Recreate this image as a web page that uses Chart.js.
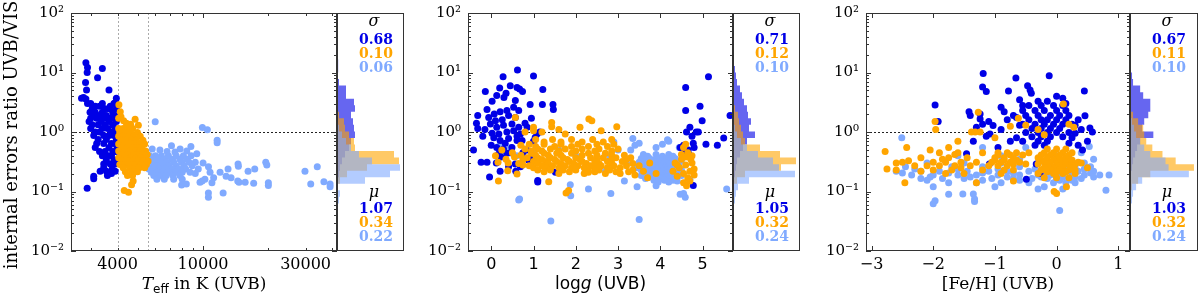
<!DOCTYPE html>
<html>
<head>
<meta charset="utf-8">
<script src="https://cdn.jsdelivr.net/npm/chart.js@4/dist/chart.umd.min.js"></script>
<style>
  html, body { margin: 0; padding: 0; background: #fff; }
  #wrap { position: relative; width: 1200px; height: 296px; overflow: hidden; }
  canvas { position: absolute; top: 0; }
</style>
</head>
<body>
<div id="wrap">
  <canvas id="s1" width="337" height="296" style="left:0px"></canvas>
  <canvas id="h1" width="67" height="296" style="left:337px"></canvas>
  <canvas id="s2" width="329" height="296" style="left:404px"></canvas>
  <canvas id="h2" width="67" height="296" style="left:733px"></canvas>
  <canvas id="s3" width="330" height="296" style="left:800px"></canvas>
  <canvas id="h3" width="68" height="296" style="left:1130px"></canvas>
</div>
<script>
/* ---------- axes ---------- */
const yDecades = [0.01, 0.1, 1, 10, 100];
const teffRange = [2430, 42000];
const teffTicks = [3000, 4000, 5000, 6000, 7000, 8000, 9000, 10000, 20000, 30000, 40000];
const teffLabels = [4000, 10000, 30000];
const teffCuts = [4000, 5550];
const loggRange = [-0.55, 5.72];
const loggTicks = [0, 1, 2, 3, 4, 5];
const fehRange = [-3.09, 1.19];
const fehTicks = [-3, -2, -1, 0, 1];

/* ---------- summary numbers (sigma, mu) ---------- */
const sigma1 = ['0.68', '0.10', '0.06'], mu1 = ['1.07', '0.34', '0.22'];
const sigma2 = ['0.71', '0.12', '0.10'], mu2 = ['1.05', '0.32', '0.24'];
const sigma3 = ['0.67', '0.11', '0.10'], mu3 = ['1.03', '0.32', '0.24'];

/* ---------- histograms: bin centres (log10 ratio), bin width and bar lengths ---------- */
const histExp = [-1.365, -1.255, -1.145, -1.035, -0.925, -0.815, -0.705, -0.595, -0.485, -0.375, -0.265, -0.155,
                 -0.045, 0.065, 0.175, 0.285, 0.395, 0.505, 0.615, 0.725, 0.835, 0.945, 1.055, 1.165];
const histBin = 0.11;
const histMax = 67;
const h1Blue   = [0,0,0,0,1,1,2,3,5,8,12,14,18,17,16,14,18,17,9,9,2,0,1.5,1];
const h1Orange = [0,0,0,0,0,3,10,30,62,57,18,17,12,8,7,2,0,0,0,0,0,0,0,0];
const h1Light  = [0,0,2,3,1,28,53,63,35,22,14,9,5,2,0,0,0,0,0,0,0,0,0,0];
const h2Blue   = [0,0,0,0,0,1,2,3,4,7,10,14,22,16,18,15,14,11,9,7,4,3,2,1];
const h2Orange = [0,0,0,0,1,4,12,48,63,47,27,12,10,8,6,5,2,0,0,0,0,0,0,0];
const h2Light  = [1,1,2,3,5,16,62,46,40,25,14,8,4,2,0,0,0,0,0,0,0,0,0,0];
const h3Blue   = [0,0,0,0,0,0,1,2,3,5,7,10,23,12,14,18,20,20,13,10,3,2,0,0];
const h3Orange = [0,0,0,0,2,8,20,63,45,32,22,16,14,13,8,3,0,0,0,0,0,0,0,0];
const h3Light  = [0,1,2,3,6,12,58,38,35,20,14,10,6,4,2,1,0,0,0,0,0,0,0,0];

/* ---------- panel 1: Teff vs ratio  (rows = [ratio, [Teff...]]) ---------- */
const p1BlueRows = [
  [3.0, [3000, 3400, 3850]],
  [2.7, [3150, 3300, 3700]],
  [2.45, [3050, 3500, 3650, 3950]],
  [2.15, [2980, 3150, 3400, 3800]],
  [1.9, [3100, 3300, 3550, 3900]],
  [1.7, [3000, 3200, 3450, 3700, 3850]],
  [1.5, [2950, 3350, 3650, 3950]],
  [1.32, [3050, 3250, 3500, 3800]],
  [1.15, [3000, 3400, 3600, 3900]],
  [1.0, [3150, 3300, 3750, 3980]],
  [0.87, [3100, 3450, 3650, 3850]],
  [0.75, [3250, 3550, 3950]],
  [0.64, [3200, 3450, 3750, 3880]],
  [0.55, [3150, 3650, 3980]],
  [0.47, [3300, 3500, 3800, 3920]],
  [0.4, [3400, 3600, 3750]],
  [0.34, [3550, 3850, 3980]],
  [0.29, [3450, 3700, 3900]]
];
const p1BlueExtra = [[2850,14.6],[2900,12.1],[2890,10],[3400,11.7],[3230,8.2],[2840,6.8],[2870,5.1],[3650,5.1],
  [2720,3.7],[2780,3.8],[2850,3.6],[3950,3.7],[2900,3.0],[3900,3.1],[2890,0.113],[3100,0.163],[3100,0.18],
  [3320,0.218],[3550,0.218],[3590,0.185],[3750,0.2],[3780,0.24],[3450,0.25],[3900,0.22]];
const p1OrangeRows = [
  [1.15, [4050, 4250, 4450, 4700]],
  [0.98, [4100, 4350, 4600, 4950]],
  [0.85, [4050, 4250, 4500, 4750, 5100]],
  [0.73, [4150, 4400, 4650, 4900, 5250]],
  [0.63, [4050, 4300, 4550, 4800, 5050, 5350]],
  [0.55, [4200, 4450, 4700, 4950, 5200]],
  [0.48, [4050, 4300, 4600, 4850, 5100, 5400]],
  [0.42, [4200, 4450, 4750, 5000, 5250, 5500]],
  [0.37, [4050, 4350, 4600, 4850, 5150, 5400]],
  [0.325, [4200, 4500, 4750, 5000, 5300, 5550]],
  [0.285, [4100, 4350, 4650, 4900, 5150, 5450]],
  [0.25, [4250, 4550, 4800, 5050, 5350]],
  [0.215, [4350, 4650, 4950]],
  [0.185, [4450, 4700]]
];
const p1OrangeExtra = [[4060,2.87],[4270,1.55],[4830,1.63],[4300,0.104],[4500,0.097],[4730,0.15],[4650,0.13],
  [4120,2.2],[4150,1.8],[4600,1.35],[5000,1.3],[4400,1.4],[4050,1.7]];
const p1LightRows = [
  [0.4, [5650, 6000, 6400, 6900, 7500, 8100, 8800]],
  [0.35, [5800, 6200, 6650, 7200, 7800, 8400]],
  [0.31, [5600, 5950, 6350, 6800, 7300, 7950, 8600, 9200]],
  [0.27, [5750, 6100, 6500, 6950, 7500, 8150, 8900]],
  [0.24, [5600, 5900, 6250, 6700, 7200, 7700, 8300, 9500]],
  [0.21, [5750, 6100, 6450, 6900, 7450, 8000, 8700]],
  [0.185, [5900, 6300, 6750, 7250, 7800]],
  [0.16, [6100, 6600, 7300, 8000]]
];
const p1LightExtra = [[5990,1.49],[9930,1.19],[10470,1.09],[11630,0.73],[11630,0.66],[7130,0.59],[7820,0.52],
  [8780,0.57],[9350,0.43],[6300,0.5],[6800,0.47],[7400,0.46],[8400,0.48],[5800,0.52],[10000,0.3],[10600,0.26],
  [10780,0.21],[12000,0.21],[11200,0.17],[13070,0.24],[14550,0.29],[14600,0.265],[16200,0.218],[17400,0.24],
  [19580,0.31],[19800,0.28],[13500,0.17],[14700,0.143],[15700,0.143],[17200,0.137],[20130,0.126],[20130,0.14],
  [14500,0.15],[10590,0.094],[10590,0.08],[12400,0.094],[29800,0.218],[34000,0.26],[31700,0.134],[36500,0.146],
  [39000,0.134],[39000,0.12],[9680,0.143],[9900,0.15],[7950,0.128],[8360,0.134],[10200,0.16],[9200,0.2],
  [11000,0.14],[12800,0.18]];

/* ---------- panel 2: log g vs ratio ---------- */
const p2BlueExtra = [[0.62,11],[1.0,8.7],[0.28,8.5],[-0.14,4.8],[0.2,5.5],[0.45,6],[0.61,5.6],[0.67,5.3],[1.22,5.2],
  [0.74,4.8],[0.13,4.1],[0.35,4.5],[0.3,3.8],[0.57,3.4],[0.02,3.3],[-0.1,2.4],[-0.32,1.9],[-0.35,1.4],[-0.32,1.15],
  [-0.42,0.5],[-0.24,0.31],[-0.04,0.175],[-0.1,0.31],[0.92,2.9],[1.21,2.9],[1.46,2.9],[1.47,2.4],
  [0.07,2.0],[0.21,2.2],[0.37,2.3],[0.53,2.6],[0.65,2.3],[-0.06,1.75],[0.1,1.55],[0.26,1.6],[0.41,1.9],[0.57,1.75],
  [-0.02,1.36],[0.13,1.2],[0.29,1.3],[0.49,1.36],[0.65,1.2],[0.02,0.95],[0.18,0.93],[0.37,1.0],[0.53,1.05],
  [0.69,0.93],[0.06,0.8],[0.21,0.72],[0.41,0.78],[0.61,0.72],[0.13,0.55],[0.29,0.52],[0.49,0.55],[0.61,0.85],
  [0.73,0.72],[0.18,0.43],[0.23,0.38],[0.37,0.44],[0.57,0.29],[0.58,0.22],[0.69,0.26],[0.84,0.5],[1.08,0.93],
  [1.04,0.81],[1.0,0.7],[1.1,0.153],[1.1,0.145],[1.52,0.21],[1.32,0.255],[1.0,0.376],[0.88,0.34],[0.21,0.22],
  [0.41,0.26],[0.0,0.6],[0.8,1.4],[0.33,0.65],[0.12,0.3],[0.45,0.45],[0.75,0.45],[-0.2,0.85],[-0.15,1.1],
  [0.95,1.7],[0.85,1.2],[1.15,1.0],
  [4.6,5.6],[4.6,2.3],[4.94,2.7],[4.99,1.55],[5.14,8.5],[5.65,1.9],[5.5,0.79],[5.35,0.6],[5.08,0.62],[4.78,0.65],
  [4.7,1.2],[4.85,1.0],[4.9,1.0],[4.62,1.0],[4.8,0.55],[4.47,0.55],[4.66,0.5],[4.63,0.46],[4.78,0.126],[4.55,0.6],
  [4.58,0.55],[4.75,0.85],[4.68,0.42],[4.6,0.48]];
const p2OrangeRows = [
  [0.75, [1.05, 1.45, 1.9, 2.4, 2.85]],
  [0.68, [1.25, 1.65, 2.15, 2.65]],
  [0.62, [0.9, 1.25, 1.65, 2.05, 2.5, 2.9]],
  [0.57, [1.05, 1.5, 1.9, 2.3, 2.75]],
  [0.52, [0.8, 1.1, 1.4, 1.75, 2.15, 2.55, 3.0]],
  [0.48, [0.95, 1.2, 1.6, 2.0, 2.45, 2.85]],
  [0.44, [0.95, 1.25, 1.55, 1.9, 2.3, 2.7]],
  [0.405, [0.7, 1.05, 1.35, 1.65, 2.15, 2.5, 2.85, 3.15]],
  [0.37, [0.85, 1.1, 1.4, 1.7, 2.0, 2.35, 2.65, 2.95, 3.3]],
  [0.345, [0.75, 1.2, 1.5, 1.8, 2.1, 2.5, 2.85, 3.2]],
  [0.32, [1.0, 1.3, 1.55, 1.85, 2.15, 2.45, 2.75, 3.1]],
  [0.295, [0.65, 1.1, 1.35, 1.65, 1.95, 2.25, 2.55, 2.85, 3.35]],
  [0.27, [0.9, 1.2, 1.45, 1.75, 2.05, 2.35, 2.6, 2.9, 3.2, 3.5]],
  [0.25, [1.0, 1.3, 1.6, 1.9, 2.2, 2.45, 2.75, 3.05]],
  [0.23, [1.1, 1.4, 1.7, 2.0, 2.3, 2.55, 2.8, 3.35]],
  [0.215, [1.25, 1.85, 2.45, 2.95, 3.25]],
  [0.2, [1.6, 2.2, 2.7, 3.05]]
];
const p2OrangeExtra = [[0.57,1.76],[1.0,1.2],[1.0,1.05],[1.43,1.45],[1.43,1.23],[2.31,1.65],[2.38,1.55],[2.97,1.23],
  [1.75,0.93],[0.16,0.31],[0.17,0.15],[0.39,0.224],[0.61,0.197],[1.36,0.146],[1.83,0.104],[1.77,0.094],[2.3,0.21],
  [1.2,1.0],[1.6,1.1],[2.1,1.2],[2.6,1.05],[0.8,1.0],[0.35,0.35],[0.5,0.45],[0.1,0.4],[0.7,0.6],[0.25,0.5],
  [0.55,0.38],[0.4,0.3],[0.75,0.28],
  [3.6,0.22],[3.75,0.3],[3.9,0.2],[3.4,0.19],[3.7,0.17],
  [4.35,0.3],[4.45,0.25],[4.55,0.2],[4.65,0.17],[4.75,0.3],[4.5,0.35],[4.6,0.28],[4.7,0.22],[4.4,0.18],[4.55,0.14],
  [4.62,0.125],[4.7,0.15],[4.8,0.24],[4.75,0.4],[4.65,0.45],[4.5,0.42],[4.3,0.22],[4.8,0.19],[4.6,0.62],[4.55,0.55],
  [4.72,0.35],[4.4,0.28],[4.6,0.38]];
const p2LightRows = [
  [0.42, [3.6, 3.9, 4.2]],
  [0.39, [3.7, 4.05, 4.3]],
  [0.36, [3.55, 3.75, 3.95, 4.15, 4.35]],
  [0.335, [3.65, 3.85, 4.05, 4.25, 4.5]],
  [0.31, [3.5, 3.7, 3.9, 4.1, 4.3, 4.45]],
  [0.29, [3.6, 3.8, 4.0, 4.2, 4.35]],
  [0.27, [3.6, 3.8, 4.0, 4.2, 4.4]],
  [0.25, [3.45, 3.7, 3.9, 4.1, 4.3, 4.45]],
  [0.23, [3.55, 3.75, 3.95, 4.15, 4.35, 4.5]],
  [0.215, [3.6, 3.8, 4.0, 4.2, 4.4]],
  [0.2, [3.65, 3.85, 4.05, 4.25, 4.45]],
  [0.185, [3.55, 3.9, 4.1, 4.25, 4.5]],
  [0.175, [3.75, 3.95, 4.15, 4.35]],
  [0.165, [3.65, 4.0, 4.2]],
  [0.155, [3.85, 4.1, 4.3]],
  [0.145, [3.95, 4.2]]
];
const p2LightExtra = [[2.9,0.68],[3.35,0.78],[3.4,0.6],[3.5,0.65],[3.3,0.5],[4.17,0.74],[4.2,0.7],[4.05,0.62],
  [3.9,0.55],[4.45,0.55],[2.83,0.093],[2.3,0.11],[1.87,0.13],[1.88,0.085],[0.67,0.075],[0.65,0.072],[1.41,0.032],
  [3.5,0.034],[5.57,0.11],[4.55,0.093],[4.59,0.08],[4.47,0.09],[3.45,0.12],[3.9,0.125],[3.15,0.15],[2.7,0.22],
  [2.5,0.3],[2.0,0.4],[0.3,0.45],[0.2,0.6],[0.45,0.55],[1.0,0.45],[0.6,0.4],[1.6,0.5],[0.95,0.3],[3.0,0.5],
  [2.8,0.4],[3.2,0.3],[4.7,0.16],[4.6,0.14],[4.4,0.15]];

/* ---------- panel 3: [Fe/H] vs ratio ---------- */
const p3BlueRows = [
  [3.3, [-0.3, -0.15]],
  [2.8, [-0.45, -0.25, -0.05, 0.1]],
  [2.3, [-0.55, -0.35, -0.2, 0.0, 0.15]],
  [1.9, [-0.5, -0.3, -0.1, 0.05, 0.2]],
  [1.6, [-0.45, -0.25, -0.15, 0.0, 0.15]],
  [1.35, [-0.55, -0.35, -0.2, -0.05, 0.1, 0.25]],
  [1.15, [-0.4, -0.25, -0.1, 0.05]],
  [0.98, [-0.5, -0.3, -0.15, 0.0, 0.2]],
  [0.83, [-0.4, -0.25, -0.1, 0.1]],
  [0.7, [-0.55, -0.3, -0.15]],
  [0.6, [-0.35, -0.2]]
];
const p3BlueExtra = [[-1.19,9.6],[-0.12,8.8],[-0.66,8.1],[-1.2,5.7],[-1.14,4.8],[-1.97,2.85],[-1.92,1.5],[-1.42,2.2],
  [-1.4,1.9],[-1.24,2.0],[-1.24,1.65],[-0.78,4.9],[-0.47,6],[-0.43,5.1],[-0.41,4.5],[0.0,4.0],[0.45,4.9],[0.46,1.88],
  [0.54,1.17],[0.42,0.5],[-0.65,1.76],[-0.7,1.9],[-1.03,1.28],[-1.08,0.93],[-1.14,0.85],[-1.35,0.7],[-1.46,0.43],
  [-1.09,0.29],[-0.49,0.16],[-0.33,0.29],[-0.27,0.2],[0.58,1.0],[0.1,3.7],[0.15,3.0],[-0.9,2.6],[-0.85,2.2],
  [-0.95,0.55],[0.3,1.3],[0.25,0.8],[-1.3,1.2],[-1.1,1.5],[-0.9,1.1],[-0.8,1.6],[-0.6,1.3],[-0.65,0.8],
  [-0.75,0.7],[-1.2,1.35],[-0.55,2.8],[-0.6,3.5],[0.35,1.6],[0.4,1.1],[0.3,0.95],[0.5,0.7],[0.2,0.65],[0.35,0.6]];
const p3OrangeRows = [
  [0.52, [-0.15, 0.0, 0.15]],
  [0.45, [-1.9, -1.6, -1.2, -0.95, -0.8, -0.65, -0.45, -0.2, -0.05, 0.1, 0.25]],
  [0.41, [-0.95, -0.75, -0.55, -0.25, -0.1, 0.05, 0.2]],
  [0.37, [-2.2, -1.75, -1.45, -1.0, -0.85, -0.7, -0.3, -0.15, 0.0, 0.15]],
  [0.34, [-1.0, -0.85, -0.65, -0.25, -0.05, 0.1, 0.25]],
  [0.31, [-2.5, -2.0, -1.8, -1.55, -1.3, -1.05, -0.9, -0.75, -0.6, -0.2, -0.1, 0.05, 0.2, 0.35]],
  [0.29, [-0.7, -0.5, -0.3, -0.15, 0.0, 0.15, 0.3]],
  [0.27, [-2.3, -2.1, -1.9, -1.65, -1.4, -1.1, -0.95, -0.8, -0.15, 0.0, 0.1, 0.25]],
  [0.25, [-0.2, -0.05, 0.1, 0.22]],
  [0.23, [-2.6, -2.0, -1.7, -1.2, -0.85, -0.7, -0.25, -0.1, 0.05, 0.2, 0.3]],
  [0.215, [-0.15, 0.0, 0.15]],
  [0.2, [-1.8, -1.5, -0.9, -0.3, -0.05, 0.1]],
  [0.17, [-0.2, 0.0, 0.2]]
];
const p3OrangeExtra = [[-2.78,0.47],[-2.75,0.24],[-2.46,0.14],[-2.43,0.55],[-2.4,0.33],[-1.96,1.1],[-1.97,1.5],
  [-1.27,2.14],[-1.38,1.0],[-1.32,1.0],[-1.24,1.0],[-0.62,1.7],[-0.75,1.25],[0.11,2.95],[0.2,1.35],[0.28,1.2],
  [-0.04,0.1],[0.0,0.093],[0.16,0.12],[-0.3,1.1],[-0.5,1.3],[-0.2,0.9],[-1.0,0.8],[-1.6,0.7],[-1.75,0.55],
  [-2.05,0.5],[-1.3,0.14],[-0.7,0.15],[0.3,0.2],[0.4,0.3],[0.5,0.25],[-2.6,0.3],[-2.2,0.22],[-1.85,0.35],
  [-1.55,0.25],[-1.65,0.42]];
const p3LightRows = [
  [0.3, [-2.1, -1.5, -0.9, -0.3, 0.1, 0.45]],
  [0.26, [-2.45, -1.7, -1.2, -0.6, -0.15, 0.05, 0.3, 0.55]],
  [0.24, [-2.3, -1.6, -0.95, -0.35, -0.1, 0.2, 0.45]],
  [0.22, [-2.6, -2.2, -1.9, -1.45, -1.1, -0.8, -0.45, -0.25, -0.05, 0.15, 0.35, 0.6]],
  [0.205, [-2.5, -1.75, -1.2, -0.7, -0.2, 0.05, 0.3, 0.55]],
  [0.19, [-2.35, -2.0, -1.6, -1.3, -0.95, -0.6, -0.3, -0.1, 0.1, 0.25, 0.45, 0.7, 0.85]],
  [0.175, [-2.05, -1.4, -0.8, -0.25, 0.1, 0.3, 0.6]],
  [0.165, [-2.2, -1.85, -1.5, -1.05, -0.7, -0.4, -0.15, 0.0, 0.2, 0.4]],
  [0.155, [-2.1, -1.2, -0.6, 0.05, 0.25]],
  [0.14, [-1.75, -1.3, -0.9, -0.45, -0.05, 0.15, 0.3]],
  [0.12, [-2.0, -1.0, -0.2]]
];
const p3LightExtra = [[-2.51,0.8],[-1.97,0.07],[-2.0,0.062],[-1.75,0.09],[-1.52,0.091],[-1.35,0.091],[-1.33,0.075],
  [-1.33,0.068],[0.05,0.048],[0.8,0.105],[-0.3,0.11],[0.1,0.11],[0.53,0.57],[0.4,0.45],[-0.5,0.55],[-1.2,0.55],
  [-0.9,0.4],[0.0,0.4],[-0.6,0.35],[-1.6,0.4],[0.6,0.35]];

/* ---------- styling ---------- */
const BLUE = 'rgb(0,0,230)';
const ORANGE = 'rgb(255,165,0)';
const LIGHT = 'rgb(128,170,255)';
const HBLUE = 'rgba(0,0,230,0.6)';
const HORANGE = 'rgba(255,165,0,0.6)';
const HLIGHT = 'rgba(128,170,255,0.6)';
const SERIF = 'DejaVu Serif';
const SANS = 'DejaVu Sans';
const AXIS = '#333';

function pts(rows, extra) {
  const out = [];
  rows.forEach(r => r[1].forEach(x => out.push({ x: x, y: r[0] })));
  extra.forEach(p => out.push({ x: p[0], y: p[1] }));
  return out;
}

function sup(n) {
  const m = { '-': '\u207B', '0': '\u2070', '1': '\u00B9', '2': '\u00B2' };
  return '10' + String(n).split('').map(c => m[c]).join('');
}

function yTickObjs() {
  const t = [];
  yDecades.forEach((d, i) => {
    t.push({ value: d, major: true });
    if (i < yDecades.length - 1) for (let m = 2; m <= 9; m++) t.push({ value: d * m, major: false });
  });
  return t;
}

function drawSegs(ctx, segs, cx, y) {
  let w = 0;
  segs.forEach(s => { ctx.font = s.f; w += ctx.measureText(s.t).width; });
  let x = cx - w / 2;
  segs.forEach(s => {
    ctx.font = s.f;
    ctx.fillText(s.t, x, y + (s.dy || 0));
    x += ctx.measureText(s.t).width;
  });
}

/* frame, inward ticks, dotted guides, titles */
const deco = {
  id: 'deco',
  beforeDatasetsDraw(chart, args, o) {
    const { ctx, chartArea: a, scales } = chart;
    ctx.save();
    ctx.lineWidth = 1;
    ctx.setLineDash([2, 2]);
    (o.vLines || []).forEach(v => {
      const x = Math.round(scales.x.getPixelForValue(v)) + 0.5;
      ctx.strokeStyle = '#aaa';
      ctx.beginPath(); ctx.moveTo(x, a.top); ctx.lineTo(x, a.bottom); ctx.stroke();
    });
    (o.hLines || []).forEach(v => {
      const y = Math.round(scales.y.getPixelForValue(v)) + 0.5;
      ctx.strokeStyle = '#222';
      ctx.beginPath(); ctx.moveTo(a.left, y); ctx.lineTo(a.right, y); ctx.stroke();
    });
    ctx.restore();
  },
  afterDraw(chart, args, o) {
    const { ctx, chartArea: a, scales } = chart;
    ctx.save();
    ctx.strokeStyle = AXIS;
    ctx.lineWidth = 1;
    ctx.strokeRect(Math.round(a.left) + 0.5, Math.round(a.top) + 0.5,
      Math.round(a.right - a.left) - 1, Math.round(a.bottom - a.top) - 1);
    if (o.ticks) {
      ctx.beginPath();
      scales.y.ticks.forEach(t => {
        const y = Math.round(scales.y.getPixelForValue(t.value)) + 0.5;
        const len = t.major ? 5 : 3;
        ctx.moveTo(a.left, y); ctx.lineTo(a.left + len, y);
        ctx.moveTo(a.right, y); ctx.lineTo(a.right - len, y);
      });
      scales.x.ticks.forEach(t => {
        const x = Math.round(scales.x.getPixelForValue(t.value)) + 0.5;
        const len = t.major ? 5 : 3;
        ctx.moveTo(x, a.bottom); ctx.lineTo(x, a.bottom - len);
        ctx.moveTo(x, a.top); ctx.lineTo(x, a.top + len);
      });
      ctx.stroke();
    }
    ctx.fillStyle = '#000';
    ctx.textAlign = 'left';
    ctx.textBaseline = 'alphabetic';
    if (o.xTitle) drawSegs(ctx, o.xTitle, (a.left + a.right) / 2, 289);
    if (o.yTitle) {
      ctx.save();
      ctx.translate(17, 135);
      ctx.rotate(-Math.PI / 2);
      ctx.font = '18px ' + SERIF;
      ctx.textAlign = 'center';
      ctx.fillText(o.yTitle, 0, 0);
      ctx.restore();
    }
    if (o.stats) {
      const cx = a.left + 39;
      ctx.textAlign = 'center';
      ctx.textBaseline = 'middle';
      const colors = [BLUE, ORANGE, LIGHT];
      ctx.font = 'italic 16px ' + SERIF;
      ctx.fillStyle = '#000';
      ctx.fillText('\u03C3', cx - 2, 22);
      ctx.fillText('\u03BC', cx - 2, 193);
      ctx.font = 'bold 14px ' + SERIF;
      o.stats.sigma.forEach((s, i) => { ctx.fillStyle = colors[i]; ctx.fillText(s, cx, 40 + i * 14.2); });
      o.stats.mu.forEach((s, i) => { ctx.fillStyle = colors[i]; ctx.fillText(s, cx, 209 + i * 14.4); });
    }
    ctx.restore();
  }
};

function yScale(width) {
  return {
    type: 'logarithmic', min: yDecades[0], max: yDecades[yDecades.length - 1],
    afterBuildTicks: s => { s.ticks = yTickObjs(); },
    afterFit: s => { s.width = width; s.paddingTop = 0; s.paddingBottom = 0; },
    grid: { display: false, drawTicks: false }, border: { display: false },
    ticks: {
      autoSkip: false, padding: 7, color: '#000', font: { family: SERIF, size: 15 },
      callback: v => {
        const e = Math.log10(v);
        return Math.abs(e - Math.round(e)) < 1e-6 ? sup(Math.round(e)) : '';
      }
    }
  };
}

function xScale(type, range, ticks, isMajor, label, family) {
  return {
    type: type, min: range[0], max: range[1],
    afterBuildTicks: s => { s.ticks = ticks.map(v => ({ value: v, major: isMajor(v) })); },
    afterFit: s => { s.height = 45; s.paddingLeft = 0; s.paddingRight = 0; },
    grid: { display: false, drawTicks: false }, border: { display: false },
    ticks: {
      autoSkip: false, maxRotation: 0, minRotation: 0, padding: 4, color: '#000',
      font: { family: family, size: 16 }, callback: label
    }
  };
}

function scatterChart(id, data, x, yw, decoOpts) {
  return new Chart(document.getElementById(id), {
    type: 'scatter',
    data: {
      datasets: [
        { data: data.orange, backgroundColor: ORANGE },
        { data: data.blue, backgroundColor: BLUE },
        { data: data.light, backgroundColor: LIGHT }
      ]
    },
    options: {
      responsive: false, animation: false, events: [],
      layout: { autoPadding: false, padding: { top: 13, left: 0, right: 0, bottom: 0 } },
      elements: { point: { radius: 3.5, borderWidth: 0, hoverRadius: 3.5 } },
      plugins: { legend: { display: false }, tooltip: { enabled: false }, deco: decoOpts },
      scales: { x: x, y: yScale(yw) }
    },
    plugins: [deco]
  });
}

/* step outline of a horizontal histogram, closed on the left edge */
function outline(counts) {
  const h = histBin / 2;
  const out = [{ x: 0, y: Math.pow(10, histExp[0] - h) }];
  histExp.forEach((e, i) => {
    out.push({ x: counts[i], y: Math.pow(10, e - h) }, { x: counts[i], y: Math.pow(10, e + h) });
  });
  out.push({ x: 0, y: Math.pow(10, histExp[histExp.length - 1] + h) });
  return out;
}

function histChart(id, blue, orange, light, stats) {
  const ds = (counts, color) => ({
    data: outline(counts), fill: 'shape', backgroundColor: color,
    borderColor: 'transparent', borderWidth: 0, pointRadius: 0, tension: 0
  });
  return new Chart(document.getElementById(id), {
    type: 'line',
    data: { datasets: [ds(light, HLIGHT), ds(orange, HORANGE), ds(blue, HBLUE)] },
    options: {
      responsive: false, animation: false, events: [],
      layout: { autoPadding: false, padding: { top: 13, left: 0, right: 0, bottom: 45 } },
      plugins: { legend: { display: false }, tooltip: { enabled: false }, deco: { stats: stats } },
      scales: {
        y: { type: 'logarithmic', display: false, min: yDecades[0], max: yDecades[yDecades.length - 1] },
        x: { type: 'linear', display: false, min: 0, max: histMax }
      }
    },
    plugins: [deco]
  });
}

const teffX = xScale('logarithmic', teffRange, teffTicks, v => v === 10000,
  v => teffLabels.includes(v) ? String(v) : '', SERIF);
const loggX = xScale('linear', loggRange, loggTicks, () => true, v => String(v), SANS);
const fehX = xScale('linear', fehRange, fehTicks, () => true,
  v => v < 0 ? '\u2212' + Math.abs(v) : String(v), SERIF);

scatterChart('s1',
  { blue: pts(p1BlueRows, p1BlueExtra), orange: pts(p1OrangeRows, p1OrangeExtra), light: pts(p1LightRows, p1LightExtra) },
  teffX, 71,
  {
    ticks: true, vLines: teffCuts, hLines: [1], yTitle: 'internal errors ratio UVB/VIS',
    xTitle: [
      { t: 'T', f: 'italic 17px ' + SERIF },
      { t: 'eff', f: '12px ' + SANS, dy: 4 },
      { t: ' in K (UVB)', f: '17px ' + SERIF }
    ]
  });
histChart('h1', h1Blue, h1Orange, h1Light, { sigma: sigma1, mu: mu1 });

scatterChart('s2',
  { blue: pts([], p2BlueExtra), orange: pts(p2OrangeRows, p2OrangeExtra), light: pts(p2LightRows, p2LightExtra) },
  loggX, 64,
  {
    ticks: true, hLines: [1],
    xTitle: [
      { t: 'log', f: '17px ' + SANS },
      { t: 'g', f: 'italic 17px ' + SANS },
      { t: ' (UVB)', f: '17px ' + SANS }
    ]
  });
histChart('h2', h2Blue, h2Orange, h2Light, { sigma: sigma2, mu: mu2 });

scatterChart('s3',
  { blue: pts(p3BlueRows, p3BlueExtra), orange: pts(p3OrangeRows, p3OrangeExtra), light: pts(p3LightRows, p3LightExtra) },
  fehX, 66,
  { ticks: true, hLines: [1], xTitle: [{ t: '[Fe/H] (UVB)', f: '17px ' + SERIF }] });
histChart('h3', h3Blue, h3Orange, h3Light, { sigma: sigma3, mu: mu3 });
</script>
</body>
</html>
